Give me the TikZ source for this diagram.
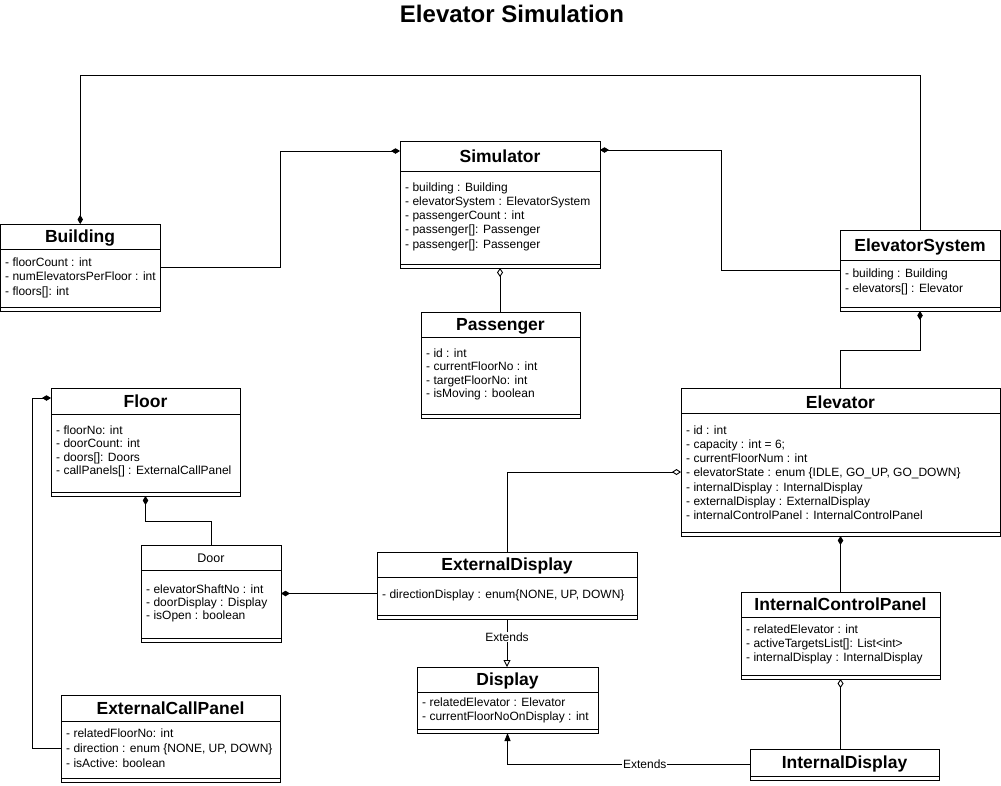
\documentclass[tikz,border=0pt]{standalone}
\usepackage{fontspec}
\setmainfont{Liberation Sans}
\usetikzlibrary{arrows.meta,calc}
\newcommand{\umlbox}[6]{%
  \node[classbox, minimum width={#4-#2}, minimum height={#5-#3}, anchor=north west] (#1) at (#2,#3) {};
  \draw[boxline] (#2,#6) -- (#4,#6);
  \draw[boxline] (#2,#5-4) -- (#4,#5-4);
}
\newcommand{\attrs}[5]{%
  \foreach \t [count=\i] in {#5} {\node[attr] (#1-a\i) at (#2, {#3+(\i-1)*#4}) {\t};}
}
\begin{document}
\begin{tikzpicture}[x=1pt,y=-1pt,
  classbox/.style={draw, line width=0.9pt, inner sep=0pt, outer sep=0pt, fill=white},
  boxline/.style={line width=0.9pt},
  ctitle/.style={font=\bfseries\fontsize{17.5}{20}\selectfont, inner sep=0pt, text height=12.6pt, text depth=0pt},
  ptitle/.style={font=\fontsize{12.5}{15}\selectfont, inner sep=0pt, text height=9pt, text depth=0pt},
  attr/.style={font=\fontsize{12}{14}\selectfont, inner sep=0pt, text height=8.6pt, text depth=0pt, anchor=west},
  link/.style={draw, line width=0.9pt},
  compS/.style={link, {Diamond[length=9pt,width=5.5pt]}-},
  compE/.style={link, -{Diamond[length=9pt,width=5.5pt]}},
  aggS/.style={link, {Diamond[open,length=9pt,width=6pt]}-},
  aggE/.style={link, -{Diamond[open,length=9pt,width=6pt]}},
  ext/.style={link, -{Triangle[open,length=7pt,width=7pt]}},
  extf/.style={link, -{Triangle[length=8pt,width=6pt]}},
  lbl/.style={font=\fontsize{12}{14}\selectfont, fill=white, inner sep=1pt}
]
\useasboundingbox[fill=white] (0,0) rectangle (1001,785);

\node[font=\bfseries\fontsize{24}{28}\selectfont, inner sep=0pt] (title) at (512,14) {Elevator Simulation};

% Building
\umlbox{building}{0.5}{224}{160}{311}{249}
\node[ctitle] (building-t) at (80,236.5) {Building};
\attrs{building}{5}{262}{14.4}{{- floorCount : int},{- numElevatorsPerFloor : int},{- floors[]: int}}

% Simulator
\umlbox{simulator}{400}{141}{600}{268}{171}
\node[ctitle] (simulator-t) at (500,156) {Simulator};
\attrs{simulator}{405}{187}{14.2}{{- building : Building},{- elevatorSystem : ElevatorSystem},{- passengerCount : int},{- passenger[]: Passenger},{- passenger[]: Passenger}}

% ElevatorSystem
\umlbox{elevsys}{840}{230}{1000}{311}{260}
\node[ctitle] (elevsys-t) at (920,245) {ElevatorSystem};
\attrs{elevsys}{845}{273.3}{15}{{- building : Building},{- elevators[] : Elevator}}

% Passenger
\umlbox{passenger}{421}{312}{580}{418}{337}
\node[ctitle] (passenger-t) at (500.5,324.5) {Passenger};
\attrs{passenger}{426}{353.3}{13.3}{{- id : int},{- currentFloorNo : int},{- targetFloorNo: int},{- isMoving : boolean}}

% Floor
\umlbox{floor}{51}{388}{240}{496}{414}
\node[ctitle] (floor-t) at (145.5,401) {Floor};
\attrs{floor}{56}{430}{13.4}{{- floorNo: int},{- doorCount: int},{- doors[]: Doors},{- callPanels[] : ExternalCallPanel}}

% Door
\umlbox{door}{141}{545}{281}{642}{570}
\node[ptitle] (door-t) at (211,557.5) {Door};
\attrs{door}{146}{589.3}{13}{{- elevatorShaftNo : int},{- doorDisplay : Display},{- isOpen : boolean}}

% ExternalCallPanel
\umlbox{ecp}{61}{695}{280}{782}{721}
\node[ctitle] (ecp-t) at (170.5,708) {ExternalCallPanel};
\attrs{ecp}{66}{733.3}{14.7}{{- relatedFloorNo: int},{- direction : enum \{NONE, UP, DOWN\}},{- isActive: boolean}}

% Elevator
\umlbox{elevator}{681}{388}{1000}{536}{413}
\node[ctitle] (elevator-t) at (840.5,402) {Elevator};
\attrs{elevator}{686}{430}{14.2}{{- id : int},{- capacity : int = 6;},{- currentFloorNum : int},{- elevatorState : enum \{IDLE, GO\_UP, GO\_DOWN\}},{- internalDisplay : InternalDisplay},{- externalDisplay : ExternalDisplay},{- internalControlPanel : InternalControlPanel}}

% ExternalDisplay
\umlbox{extdisp}{377}{552}{637}{619}{577}
\node[ctitle] (extdisp-t) at (507,564.5) {ExternalDisplay};
\attrs{extdisp}{382}{594}{14}{{- directionDisplay : enum\{NONE, UP, DOWN\}}}

% Display
\umlbox{display}{417}{667}{598}{733}{692}
\node[ctitle] (display-t) at (507.5,679.5) {Display};
\attrs{display}{422}{701.7}{14.3}{{- relatedElevator : Elevator},{- currentFloorNoOnDisplay : int}}

% InternalControlPanel
\umlbox{icp}{741}{592}{940}{679}{617}
\node[ctitle] (icp-t) at (840.5,604.5) {InternalControlPanel};
\attrs{icp}{746}{629.3}{13.7}{{- relatedElevator : int},{- activeTargetsList[]: List<int>},{- internalDisplay : InternalDisplay}}

% InternalDisplay
\umlbox{intdisp}{750}{749}{939}{780}{776}
\node[ctitle] (intdisp-t) at (844.5,762.5) {InternalDisplay};

% Connectors
\draw[compS] (building.north) -- ++(0,-149) -| (elevsys.north);
\draw[compE] (building.east) -- ++(120,0) |- ([yshift=-10pt]simulator.north west);
\draw[compE] (elevsys.west) -- ++(-119,0) |- ([yshift=-9pt]simulator.north east);
\draw[aggS] (simulator.south) -- (simulator.south |- passenger.north);
\draw[compS] (elevsys.south) -- ++(0,39) -| (elevator.north);
\draw[compS] (floor.south) -- ++(0,25) -| (door.north);
\draw[compE] ([yshift=-9.5pt]ecp.west) -- ++(-29,0) |- ([yshift=-10pt]floor.north west);
\draw[compS] (door.east) -- (door.east -| extdisp.west);
\draw[aggE] (extdisp.north) |- ([yshift=-10pt]elevator.west);
\draw[ext] (extdisp.south) -- (extdisp.south |- display.north) node[lbl, pos=0.375] (ext1) {Extends};
\draw[extf] (intdisp.west) -| (display.south) node[lbl, pos=0.217] (ext2) {Extends};
\draw[compS] (elevator.south) -- (elevator.south |- icp.north);
\draw[aggS] (icp.south) -- (icp.south |- intdisp.north);
\end{tikzpicture}
\end{document}
